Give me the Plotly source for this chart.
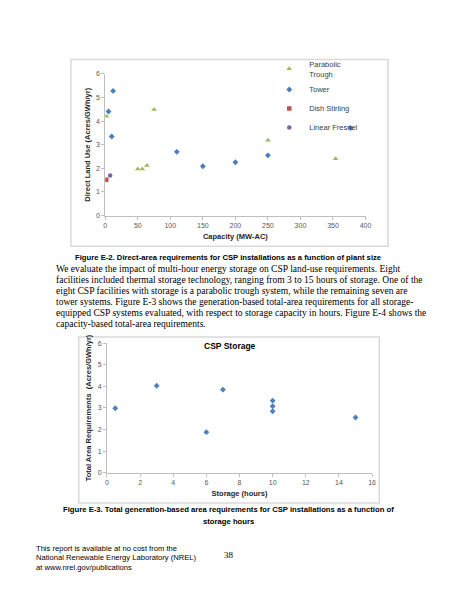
import plotly.graph_objects as go

# --- dados da figura E-2 (capacidade MW-AC x uso direto do solo) ---
trough_cap = [1.5, 50, 57, 64, 75, 250, 354]
trough_use = [4.21, 1.97, 1.97, 2.12, 4.49, 3.19, 2.41]
tower_cap = [5, 10, 12, 110, 150, 200, 250, 377]
tower_use = [4.41, 3.35, 5.28, 2.70, 2.09, 2.26, 2.55, 3.71]
dish_cap = [1.5]
dish_use = [1.52]
fresnel_cap = [7.5]
fresnel_use = [1.70]

# --- dados da figura E-3 (horas de armazenamento x área total) ---
storage_hours = [0.5, 3, 6, 7, 10, 10, 10, 15]
storage_area = [2.99, 4.03, 1.88, 3.85, 3.34, 3.08, 2.85, 2.56]

# o body do html tem 8px de margem: a figura cabe dentro da janela e as coordenadas são compensadas
OFF = 8
W, H = 463 - 2 * OFF, 599 - 2 * OFF


def px(x):
    return (x - OFF) / W


def py(y):
    return 1 - (y - OFF) / H


GRAY_TXT = '#595959'
AX_LINE = '#bfbfbf'
CHART_FONT = 'Liberation Sans'

fig = go.Figure()

fig.add_trace(go.Scatter(
    x=trough_cap, y=trough_use, mode='markers', name='Parabolic<br>Trough',
    marker=dict(symbol='triangle-up', size=5, color='#9bbb59'),
    xaxis='x', yaxis='y'))
fig.add_trace(go.Scatter(
    x=tower_cap, y=tower_use, mode='markers', name='Tower',
    marker=dict(symbol='diamond', size=4.5, color='#4a7ebb'),
    xaxis='x', yaxis='y'))
fig.add_trace(go.Scatter(
    x=dish_cap, y=dish_use, mode='markers', name='Dish Stirling',
    marker=dict(symbol='square', size=4.5, color='#c0504d'),
    xaxis='x', yaxis='y'))
fig.add_trace(go.Scatter(
    x=fresnel_cap, y=fresnel_use, mode='markers', name='Linear Fresnel',
    marker=dict(symbol='circle', size=4.5, color='#8064a2'),
    xaxis='x', yaxis='y'))

fig.add_trace(go.Scatter(
    x=storage_hours, y=storage_area, mode='markers', name='CSP Storage',
    marker=dict(symbol='diamond', size=4.5, color='#4f81bd'),
    showlegend=False, xaxis='x2', yaxis='y2'))

axis_common = dict(
    showgrid=False, zeroline=False, showline=True, linecolor=AX_LINE, linewidth=1,
    ticks='outside', ticklen=3, tickcolor=AX_LINE,
    tickfont=dict(family=CHART_FONT, size=7, color=GRAY_TXT),
)
title_font = dict(family=CHART_FONT, size=7.5, color='#262626', weight='bold')

fig.update_layout(
    width=W, height=H,
    margin=dict(l=0, r=0, t=0, b=0),
    paper_bgcolor='white', plot_bgcolor='white',
    xaxis=dict(axis_common, domain=[px(105), px(370)], range=[0, 400], dtick=50,
               anchor='y', title=dict(text='Capacity (MW-AC)', font=title_font, standoff=5)),
    yaxis=dict(axis_common, domain=[py(214), py(70.7)], range=[0, 6], dtick=1,
               anchor='x', title=dict(text='Direct Land Use (Acres/GWh/yr)', font=title_font, standoff=4)),
    xaxis2=dict(axis_common, domain=[px(106.7), px(376.7)], range=[0, 16], dtick=2,
                anchor='y2', title=dict(text='Storage (hours)', font=title_font, standoff=5)),
    yaxis2=dict(axis_common, domain=[py(474.3), py(343.3)], range=[0, 6], dtick=1,
                anchor='x2', title=dict(text='Total Area Requirements  (Acres/GWh/yr)', font=title_font, standoff=4)),
    legend=dict(x=px(272), y=py(49), xanchor='left', yanchor='top',
                bgcolor='rgba(0,0,0,0)', font=dict(family=CHART_FONT, size=7.5, color='#404040'),
                tracegroupgap=0, itemwidth=30),
    showlegend=True,
)

# molduras cinza dos dois gráficos
for x0, y0, x1, y1 in [(70, 56, 393, 245), (78, 337, 384, 505)]:
    fig.add_shape(type='rect', xref='paper', yref='paper',
                  x0=px(x0), x1=px(x1), y0=py(y0), y1=py(y1),
                  line=dict(color='#d9d9d9', width=1.5), layer='below')


def texto(txt, x, y, font, xanchor='center'):
    fig.add_annotation(text=txt, x=px(x), y=py(y), xref='paper', yref='paper',
                       xanchor=xanchor, yanchor='middle', showarrow=False, font=font)


texto('<b>CSP Storage</b>', 231.7, 346, dict(family=CHART_FONT, size=8.5, color='#000000'))

# --- textos da página ---
cap_font = dict(family='Liberation Sans', size=7.7, color='black')
texto('<b>Figure E-2. Direct-area requirements for CSP installations as a function of plant size</b>',
      230.5, 256, cap_font)

paragraph = [
    'We evaluate the impact of multi-hour energy storage on CSP land-use requirements. Eight',
    'facilities included thermal storage technology, ranging from 3 to 15 hours of storage. One of the',
    'eight CSP facilities with storage is a parabolic trough system, while the remaining seven are',
    'tower systems. Figure E-3 shows the generation-based total-area requirements for all storage-',
    'equipped CSP systems evaluated, with respect to storage capacity in hours. Figure E-4 shows the',
    'capacity-based total-area requirements.',
]
for i, line in enumerate(paragraph):
    texto(line, 53, 268 + 11 * i, dict(family='Liberation Serif', size=9.55, color='black'), 'left')

texto('<b>Figure E-3. Total generation-based area requirements for CSP installations as a function of</b>',
      230.5, 512, cap_font)
texto('<b>storage hours</b>', 230.5, 524, cap_font)

footer = [
    'This report is available at no cost from the',
    'National Renewable Energy Laboratory (NREL)',
    'at www.nrel.gov/publications',
]
for i, line in enumerate(footer):
    texto(line, 32, 551 + 9.5 * i, dict(family='Liberation Sans', size=7.6, color='black'), 'left')
texto('38', 231, 558, dict(family='Liberation Serif', size=9, color='black'))

fig.write_html("out.html")
